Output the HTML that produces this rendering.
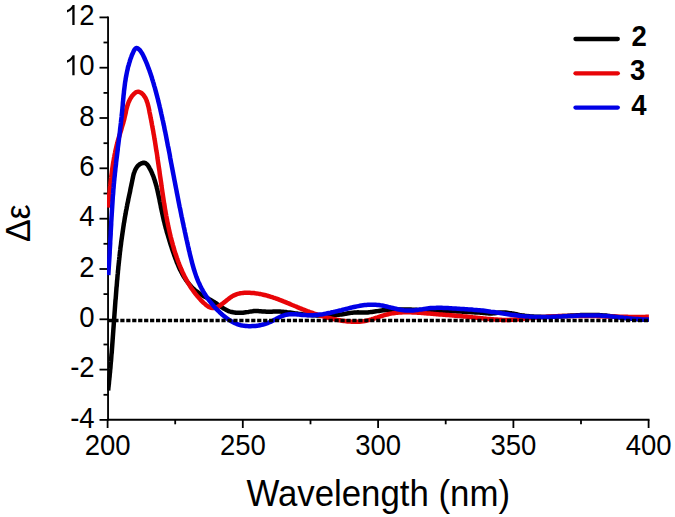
<!DOCTYPE html>
<html><head><meta charset="utf-8"><style>
html,body{margin:0;padding:0;background:#fff;}
svg{display:block;font-family:"Liberation Sans",sans-serif;}
</style></head><body>
<svg width="675" height="517" viewBox="0 0 675 517">
<rect width="675" height="517" fill="#fff"/>
<line x1="108.05" y1="16.5" x2="108.05" y2="420.6" stroke="#000" stroke-width="1.85"/>
<line x1="107.1" y1="419.7" x2="649.5" y2="419.7" stroke="#000" stroke-width="1.85"/>
<line x1="99.5" y1="419.9" x2="108.05" y2="419.9" stroke="#000" stroke-width="1.8"/>
<line x1="103.5" y1="394.8" x2="108.05" y2="394.8" stroke="#000" stroke-width="1.8"/>
<line x1="99.5" y1="369.6" x2="108.05" y2="369.6" stroke="#000" stroke-width="1.8"/>
<line x1="103.5" y1="344.5" x2="108.05" y2="344.5" stroke="#000" stroke-width="1.8"/>
<line x1="99.5" y1="319.3" x2="108.05" y2="319.3" stroke="#000" stroke-width="1.8"/>
<line x1="103.5" y1="294.1" x2="108.05" y2="294.1" stroke="#000" stroke-width="1.8"/>
<line x1="99.5" y1="269.0" x2="108.05" y2="269.0" stroke="#000" stroke-width="1.8"/>
<line x1="103.5" y1="243.8" x2="108.05" y2="243.8" stroke="#000" stroke-width="1.8"/>
<line x1="99.5" y1="218.7" x2="108.05" y2="218.7" stroke="#000" stroke-width="1.8"/>
<line x1="103.5" y1="193.5" x2="108.05" y2="193.5" stroke="#000" stroke-width="1.8"/>
<line x1="99.5" y1="168.3" x2="108.05" y2="168.3" stroke="#000" stroke-width="1.8"/>
<line x1="103.5" y1="143.2" x2="108.05" y2="143.2" stroke="#000" stroke-width="1.8"/>
<line x1="99.5" y1="118.0" x2="108.05" y2="118.0" stroke="#000" stroke-width="1.8"/>
<line x1="103.5" y1="92.9" x2="108.05" y2="92.9" stroke="#000" stroke-width="1.8"/>
<line x1="99.5" y1="67.7" x2="108.05" y2="67.7" stroke="#000" stroke-width="1.8"/>
<line x1="103.5" y1="42.5" x2="108.05" y2="42.5" stroke="#000" stroke-width="1.8"/>
<line x1="99.5" y1="17.4" x2="108.05" y2="17.4" stroke="#000" stroke-width="1.8"/>
<line x1="107.6" y1="419.7" x2="107.6" y2="428.0" stroke="#000" stroke-width="1.8"/>
<line x1="175.2" y1="419.7" x2="175.2" y2="424.3" stroke="#000" stroke-width="1.8"/>
<line x1="242.8" y1="419.7" x2="242.8" y2="428.0" stroke="#000" stroke-width="1.8"/>
<line x1="310.5" y1="419.7" x2="310.5" y2="424.3" stroke="#000" stroke-width="1.8"/>
<line x1="378.1" y1="419.7" x2="378.1" y2="428.0" stroke="#000" stroke-width="1.8"/>
<line x1="445.7" y1="419.7" x2="445.7" y2="424.3" stroke="#000" stroke-width="1.8"/>
<line x1="513.4" y1="419.7" x2="513.4" y2="428.0" stroke="#000" stroke-width="1.8"/>
<line x1="581.0" y1="419.7" x2="581.0" y2="424.3" stroke="#000" stroke-width="1.8"/>
<line x1="648.6" y1="419.7" x2="648.6" y2="428.0" stroke="#000" stroke-width="1.8"/>
<defs><clipPath id="pc"><rect x="107.1" y="0" width="560" height="517"/></clipPath></defs>
<g clip-path="url(#pc)">
<path d="M108.1,390.5 L108.3,389.1 L108.4,387.7 L108.6,386.3 L108.7,385.0 L108.9,383.6 L109.0,382.2 L109.1,380.8 L109.3,379.4 L109.4,378.0 L109.6,376.6 L109.7,375.2 L109.8,373.8 L110.0,372.4 L110.1,371.0 L110.2,369.6 L110.4,368.2 L110.5,366.8 L110.6,365.4 L110.7,364.0 L110.8,362.6 L111.0,361.2 L111.1,359.8 L111.2,358.5 L111.3,357.1 L111.4,355.7 L111.5,354.3 L111.7,352.9 L111.8,351.5 L111.9,350.1 L112.0,348.7 L112.1,347.3 L112.2,345.9 L112.3,344.5 L112.4,343.1 L112.5,341.8 L112.6,340.4 L112.7,339.0 L112.8,337.6 L112.9,336.2 L113.0,334.8 L113.1,333.4 L113.2,332.0 L113.3,330.6 L113.4,329.2 L113.5,327.8 L113.6,326.5 L113.7,325.1 L113.8,323.7 L113.9,322.3 L114.0,320.9 L114.1,319.5 L114.2,318.1 L114.3,316.7 L114.4,315.3 L114.5,313.9 L114.6,312.5 L114.7,311.1 L114.8,309.8 L114.9,308.4 L115.0,307.0 L115.1,305.6 L115.2,304.2 L115.3,302.8 L115.4,301.4 L115.5,300.0 L115.7,298.6 L115.8,297.2 L115.9,295.8 L116.0,294.4 L116.1,293.0 L116.2,291.6 L116.3,290.3 L116.4,288.9 L116.5,287.5 L116.7,286.1 L116.8,284.7 L116.9,283.3 L117.0,281.9 L117.1,280.5 L117.3,279.1 L117.4,277.7 L117.5,276.3 L117.6,274.9 L117.8,273.5 L117.9,272.1 L118.0,270.7 L118.2,269.3 L118.3,267.9 L118.4,266.5 L118.6,265.1 L118.7,263.7 L118.9,262.3 L119.0,260.9 L119.2,259.5 L119.3,258.1 L119.5,256.7 L119.6,255.3 L119.8,253.9 L119.9,252.5 L120.1,251.1 L120.3,249.7 L120.4,248.3 L120.6,246.9 L120.8,245.5 L121.0,244.2 L121.1,242.8 L121.3,241.4 L121.5,240.0 L121.7,238.6 L121.9,237.2 L122.1,235.8 L122.3,234.4 L122.5,233.0 L122.7,231.7 L122.9,230.3 L123.1,228.9 L123.3,227.5 L123.5,226.1 L123.7,224.8 L123.9,223.4 L124.2,222.0 L124.4,220.6 L124.6,219.3 L124.8,217.9 L125.1,216.5 L125.3,215.2 L125.6,213.8 L125.8,212.5 L126.0,211.1 L126.3,209.7 L126.6,208.4 L126.8,207.0 L127.1,205.7 L127.3,204.4 L127.6,203.0 L127.9,201.7 L128.2,200.3 L128.4,199.0 L128.7,197.6 L129.0,196.3 L129.3,194.9 L129.6,193.6 L129.9,192.2 L130.2,190.8 L130.4,189.4 L130.7,188.0 L131.0,186.6 L131.3,185.2 L131.6,183.8 L131.9,182.4 L132.2,180.9 L132.5,179.4 L132.8,178.0 L133.1,176.5 L133.4,175.1 L133.8,173.6 L134.3,172.3 L134.8,170.9 L135.4,169.6 L136.0,168.4 L136.8,167.2 L137.6,166.2 L138.6,165.2 L139.7,164.3 L140.9,163.6 L142.1,163.1 L143.3,162.8 L144.5,162.8 L145.5,163.2 L146.4,163.8 L147.3,164.7 L148.1,165.7 L148.8,166.8 L149.5,168.1 L150.2,169.3 L150.8,170.6 L151.4,171.8 L152.0,173.1 L152.5,174.4 L153.1,175.7 L153.6,177.0 L154.0,178.4 L154.5,179.7 L154.9,181.0 L155.3,182.4 L155.7,183.7 L156.1,185.1 L156.5,186.4 L156.8,187.8 L157.2,189.2 L157.5,190.6 L157.8,191.9 L158.1,193.3 L158.4,194.7 L158.7,196.1 L159.0,197.5 L159.3,198.8 L159.6,200.2 L159.8,201.6 L160.1,203.0 L160.4,204.4 L160.7,205.8 L160.9,207.2 L161.2,208.5 L161.5,209.9 L161.8,211.3 L162.1,212.6 L162.4,214.0 L162.7,215.4 L163.0,216.7 L163.3,218.1 L163.6,219.4 L163.9,220.8 L164.3,222.1 L164.6,223.5 L164.9,224.8 L165.3,226.1 L165.6,227.5 L166.0,228.8 L166.4,230.1 L166.7,231.5 L167.1,232.8 L167.5,234.1 L167.9,235.5 L168.3,236.8 L168.7,238.1 L169.1,239.5 L169.5,240.8 L169.9,242.1 L170.3,243.5 L170.7,244.8 L171.2,246.1 L171.6,247.5 L172.0,248.8 L172.5,250.1 L172.9,251.5 L173.4,252.8 L173.9,254.2 L174.3,255.5 L174.8,256.8 L175.3,258.2 L175.8,259.5 L176.3,260.8 L176.8,262.2 L177.4,263.5 L177.9,264.8 L178.5,266.1 L179.0,267.4 L179.6,268.7 L180.2,269.9 L180.9,271.2 L181.5,272.4 L182.2,273.7 L182.8,274.9 L183.5,276.1 L184.2,277.3 L185.0,278.4 L185.7,279.6 L186.5,280.7 L187.3,281.8 L188.2,282.9 L189.0,284.0 L189.9,285.0 L190.8,286.0 L191.7,287.0 L192.7,288.0 L193.7,289.0 L194.7,289.9 L195.8,290.8 L196.9,291.6 L198.0,292.4 L199.1,293.2 L200.3,294.0 L201.5,294.8 L202.7,295.5 L203.9,296.2 L205.2,296.9 L206.4,297.6 L207.7,298.3 L208.9,299.0 L210.2,299.7 L211.4,300.4 L212.7,301.2 L213.9,301.9 L215.1,302.7 L216.3,303.4 L217.4,304.2 L218.6,305.1 L219.7,305.9 L220.9,306.7 L222.0,307.4 L223.2,308.2 L224.4,308.9 L225.6,309.6 L226.8,310.2 L228.0,310.8 L229.3,311.3 L230.6,311.7 L231.9,312.0 L233.2,312.3 L234.6,312.5 L236.0,312.7 L237.4,312.8 L238.8,312.8 L240.2,312.8 L241.6,312.8 L243.0,312.7 L244.4,312.5 L245.8,312.3 L247.1,312.1 L248.5,311.9 L249.9,311.6 L251.2,311.4 L252.6,311.3 L254.0,311.1 L255.3,311.1 L256.7,311.1 L258.1,311.1 L259.5,311.2 L260.8,311.3 L262.2,311.4 L263.6,311.5 L265.0,311.6 L266.4,311.7 L267.7,311.8 L269.1,311.8 L270.5,311.7 L271.9,311.7 L273.3,311.6 L274.7,311.6 L276.1,311.5 L277.5,311.6 L278.8,311.6 L280.2,311.6 L281.6,311.7 L283.0,311.8 L284.4,312.0 L285.8,312.1 L287.2,312.3 L288.6,312.4 L290.0,312.6 L291.3,312.8 L292.7,313.0 L294.1,313.2 L295.5,313.4 L296.9,313.6 L298.3,313.8 L299.7,313.9 L301.1,314.1 L302.5,314.3 L303.9,314.4 L305.3,314.6 L306.7,314.7 L308.1,314.9 L309.5,315.0 L310.8,315.1 L312.2,315.2 L313.6,315.2 L315.0,315.3 L316.4,315.4 L317.8,315.4 L319.2,315.5 L320.6,315.5 L322.0,315.5 L323.4,315.5 L324.8,315.5 L326.2,315.5 L327.6,315.4 L329.0,315.4 L330.4,315.3 L331.8,315.2 L333.1,315.2 L334.5,315.1 L335.9,314.9 L337.3,314.8 L338.7,314.7 L340.1,314.5 L341.4,314.4 L342.8,314.2 L344.2,314.0 L345.6,313.8 L346.9,313.5 L348.3,313.3 L349.7,313.1 L351.0,312.9 L352.4,312.7 L353.8,312.6 L355.2,312.4 L356.6,312.4 L357.9,312.3 L359.3,312.4 L360.7,312.4 L362.1,312.5 L363.6,312.5 L365.0,312.5 L366.3,312.4 L367.7,312.4 L369.1,312.2 L370.5,312.1 L371.9,311.9 L373.3,311.7 L374.7,311.5 L376.1,311.3 L377.4,311.1 L378.8,310.9 L380.2,310.7 L381.6,310.5 L383.0,310.3 L384.4,310.2 L385.8,310.1 L387.2,309.9 L388.5,309.8 L389.9,309.8 L391.3,309.7 L392.7,309.6 L394.1,309.6 L395.5,309.5 L396.9,309.5 L398.3,309.5 L399.7,309.5 L401.1,309.5 L402.5,309.5 L403.9,309.5 L405.3,309.5 L406.7,309.5 L408.1,309.6 L409.5,309.6 L410.9,309.6 L412.3,309.7 L413.7,309.7 L415.1,309.8 L416.5,309.8 L417.9,309.9 L419.3,309.9 L420.7,310.0 L422.1,310.0 L423.5,310.1 L424.9,310.1 L426.3,310.2 L427.7,310.2 L429.1,310.3 L430.5,310.3 L431.9,310.4 L433.3,310.4 L434.7,310.5 L436.1,310.5 L437.5,310.6 L438.9,310.7 L440.3,310.7 L441.7,310.8 L443.1,310.8 L444.5,310.9 L445.8,310.9 L447.2,311.0 L448.6,311.0 L450.0,311.1 L451.4,311.2 L452.8,311.2 L454.2,311.3 L455.6,311.3 L457.0,311.4 L458.4,311.5 L459.8,311.5 L461.2,311.6 L462.6,311.7 L464.0,311.7 L465.4,311.8 L466.8,311.9 L468.2,312.0 L469.6,312.0 L471.0,312.1 L472.4,312.2 L473.8,312.3 L475.1,312.4 L476.5,312.5 L477.9,312.6 L479.3,312.6 L480.7,312.7 L482.1,312.8 L483.5,312.9 L484.9,313.0 L486.3,313.2 L487.7,313.3 L489.1,313.4 L490.5,313.4 L491.9,313.4 L493.2,313.3 L494.6,313.2 L496.0,313.0 L497.4,312.7 L498.8,312.6 L500.1,312.4 L501.5,312.4 L502.9,312.4 L504.2,312.4 L505.6,312.5 L507.0,312.7 L508.4,312.9 L509.7,313.1 L511.1,313.3 L512.5,313.6 L513.9,313.8 L515.2,314.1 L516.6,314.3 L518.0,314.6 L519.4,314.9 L520.7,315.1 L522.1,315.4 L523.5,315.6 L524.9,315.8 L526.3,315.9 L527.6,316.1 L529.0,316.2 L530.4,316.4 L531.8,316.5 L533.2,316.6 L534.6,316.7 L536.0,316.7 L537.4,316.8 L538.8,316.8 L540.2,316.8 L541.6,316.9 L543.0,316.9 L544.4,316.9 L545.8,316.9 L547.2,316.8 L548.6,316.8 L550.0,316.8 L551.4,316.7 L552.8,316.7 L554.2,316.6 L555.6,316.5 L557.0,316.5 L558.4,316.4 L559.8,316.3 L561.2,316.2 L562.6,316.1 L564.0,316.1 L565.4,316.0 L566.8,315.9 L568.2,315.8 L569.6,315.7 L571.0,315.6 L572.4,315.5 L573.8,315.5 L575.2,315.4 L576.6,315.3 L578.0,315.2 L579.4,315.2 L580.8,315.1 L582.2,315.1 L583.6,315.0 L585.0,315.0 L586.4,314.9 L587.8,314.9 L589.2,314.9 L590.6,314.9 L592.0,314.9 L593.4,314.9 L594.8,314.9 L596.2,315.0 L597.6,315.0 L598.9,315.1 L600.3,315.2 L601.7,315.3 L603.1,315.4 L604.5,315.5 L605.9,315.6 L607.3,315.8 L608.6,315.9 L610.0,316.1 L611.4,316.2 L612.8,316.4 L614.2,316.6 L615.5,316.8 L616.9,316.9 L618.3,317.1 L619.7,317.3 L621.1,317.5 L622.4,317.7 L623.8,317.8 L625.2,318.0 L626.6,318.2 L628.0,318.3 L629.4,318.5 L630.7,318.6 L632.1,318.8 L633.5,318.9 L634.9,319.0 L636.3,319.1 L637.7,319.2 L639.1,319.3 L640.5,319.4 L641.9,319.4 L643.3,319.4 L644.7,319.5 L646.1,319.4 L647.5,319.4 L648.9,319.4" fill="none" stroke="#000" stroke-width="4.5" stroke-linejoin="round" stroke-linecap="butt"/>
<path d="M108.0,207.5 L108.1,206.2 L108.2,204.8 L108.4,203.5 L108.5,202.1 L108.7,200.8 L108.8,199.5 L108.9,198.1 L109.1,196.8 L109.2,195.4 L109.3,194.1 L109.5,192.8 L109.6,191.4 L109.8,190.1 L109.9,188.7 L110.0,187.4 L110.2,186.0 L110.3,184.7 L110.5,183.4 L110.6,182.0 L110.8,180.7 L110.9,179.3 L111.1,178.0 L111.2,176.7 L111.4,175.3 L111.6,174.0 L111.8,172.6 L111.9,171.3 L112.1,170.0 L112.3,168.6 L112.5,167.3 L112.7,166.0 L112.9,164.6 L113.1,163.3 L113.3,162.0 L113.6,160.7 L113.8,159.3 L114.0,158.0 L114.3,156.7 L114.5,155.4 L114.8,154.0 L115.1,152.7 L115.3,151.4 L115.6,150.1 L115.9,148.8 L116.2,147.5 L116.5,146.1 L116.8,144.8 L117.2,143.5 L117.5,142.2 L117.9,140.9 L118.2,139.6 L118.6,138.3 L119.0,137.0 L119.4,135.7 L119.8,134.5 L120.2,133.2 L120.6,131.9 L121.0,130.6 L121.4,129.3 L121.7,128.0 L122.1,126.7 L122.5,125.4 L122.9,124.1 L123.3,122.8 L123.6,121.5 L124.0,120.2 L124.3,118.9 L124.6,117.6 L124.9,116.3 L125.2,115.0 L125.5,113.7 L125.8,112.4 L126.0,111.1 L126.3,109.8 L126.6,108.5 L127.0,107.2 L127.3,105.9 L127.8,104.6 L128.2,103.3 L128.7,102.0 L129.3,100.7 L129.9,99.5 L130.6,98.2 L131.4,97.0 L132.2,95.8 L133.2,94.7 L134.1,93.7 L135.1,92.9 L136.2,92.2 L137.2,91.9 L138.3,91.7 L139.4,91.9 L140.4,92.4 L141.4,93.0 L142.3,93.8 L143.2,94.7 L143.9,95.6 L144.6,96.6 L145.3,97.7 L145.9,98.8 L146.4,100.0 L146.8,101.3 L147.3,102.5 L147.7,103.8 L148.0,105.2 L148.4,106.5 L148.7,107.9 L149.0,109.3 L149.3,110.7 L149.5,112.1 L149.8,113.5 L150.1,114.8 L150.4,116.2 L150.6,117.6 L150.9,118.9 L151.2,120.3 L151.4,121.7 L151.7,123.0 L151.9,124.4 L152.2,125.7 L152.4,127.1 L152.7,128.4 L152.9,129.8 L153.2,131.1 L153.4,132.4 L153.6,133.8 L153.9,135.1 L154.1,136.4 L154.3,137.8 L154.5,139.1 L154.8,140.4 L155.0,141.8 L155.2,143.1 L155.4,144.4 L155.6,145.7 L155.8,147.0 L156.0,148.4 L156.2,149.7 L156.4,151.0 L156.7,152.3 L156.9,153.6 L157.1,155.0 L157.3,156.3 L157.4,157.6 L157.6,158.9 L157.8,160.2 L158.0,161.5 L158.2,162.9 L158.4,164.2 L158.6,165.5 L158.8,166.8 L159.0,168.1 L159.2,169.4 L159.4,170.8 L159.6,172.1 L159.7,173.4 L159.9,174.7 L160.1,176.1 L160.3,177.4 L160.5,178.7 L160.7,180.0 L160.9,181.4 L161.1,182.7 L161.3,184.0 L161.4,185.4 L161.6,186.7 L161.8,188.0 L162.0,189.4 L162.2,190.7 L162.4,192.0 L162.6,193.4 L162.8,194.7 L163.0,196.1 L163.2,197.4 L163.4,198.7 L163.6,200.1 L163.8,201.4 L164.0,202.8 L164.3,204.1 L164.5,205.4 L164.7,206.8 L164.9,208.1 L165.1,209.5 L165.4,210.8 L165.6,212.1 L165.8,213.5 L166.1,214.8 L166.3,216.1 L166.6,217.5 L166.8,218.8 L167.1,220.1 L167.3,221.5 L167.6,222.8 L167.9,224.1 L168.1,225.5 L168.4,226.8 L168.7,228.1 L169.0,229.4 L169.3,230.7 L169.6,232.1 L169.9,233.4 L170.2,234.7 L170.5,236.0 L170.8,237.3 L171.2,238.6 L171.5,239.9 L171.8,241.2 L172.2,242.5 L172.6,243.8 L172.9,245.1 L173.3,246.4 L173.7,247.7 L174.0,249.0 L174.4,250.3 L174.8,251.6 L175.2,252.9 L175.6,254.2 L176.1,255.4 L176.5,256.7 L176.9,258.0 L177.4,259.2 L177.8,260.5 L178.3,261.8 L178.8,263.0 L179.2,264.3 L179.7,265.5 L180.2,266.7 L180.7,268.0 L181.3,269.2 L181.8,270.4 L182.3,271.7 L182.9,272.9 L183.5,274.1 L184.0,275.3 L184.6,276.5 L185.2,277.7 L185.9,278.9 L186.5,280.1 L187.1,281.2 L187.8,282.4 L188.5,283.5 L189.2,284.7 L189.9,285.8 L190.6,287.0 L191.3,288.1 L192.1,289.2 L192.9,290.3 L193.6,291.4 L194.5,292.5 L195.3,293.6 L196.1,294.6 L197.0,295.7 L197.9,296.7 L198.8,297.8 L199.7,298.8 L200.6,299.8 L201.6,300.8 L202.6,301.8 L203.6,302.8 L204.6,303.7 L205.7,304.7 L206.7,305.5 L207.8,306.3 L209.0,307.0 L210.1,307.5 L211.2,307.9 L212.4,308.1 L213.6,308.1 L214.8,307.9 L216.0,307.6 L217.2,307.1 L218.4,306.4 L219.6,305.7 L220.8,305.0 L221.9,304.1 L223.0,303.3 L224.1,302.4 L225.2,301.6 L226.3,300.7 L227.4,299.8 L228.5,299.0 L229.5,298.1 L230.6,297.4 L231.7,296.6 L232.9,295.9 L234.0,295.3 L235.2,294.8 L236.4,294.3 L237.7,293.9 L239.0,293.6 L240.3,293.3 L241.6,293.1 L243.0,292.9 L244.4,292.8 L245.7,292.7 L247.1,292.7 L248.5,292.7 L249.8,292.8 L251.2,292.9 L252.6,293.0 L253.9,293.1 L255.3,293.3 L256.6,293.4 L257.9,293.6 L259.2,293.9 L260.6,294.1 L261.9,294.4 L263.2,294.7 L264.5,295.0 L265.8,295.3 L267.1,295.6 L268.3,296.0 L269.6,296.4 L270.9,296.8 L272.2,297.2 L273.4,297.6 L274.7,298.0 L276.0,298.5 L277.2,298.9 L278.5,299.4 L279.7,299.9 L281.0,300.4 L282.3,300.9 L283.5,301.4 L284.8,301.9 L286.0,302.4 L287.2,302.9 L288.5,303.4 L289.7,303.9 L291.0,304.5 L292.2,305.0 L293.5,305.5 L294.7,306.0 L296.0,306.5 L297.2,307.1 L298.5,307.6 L299.7,308.1 L301.0,308.6 L302.2,309.1 L303.5,309.6 L304.8,310.1 L306.0,310.6 L307.3,311.1 L308.6,311.5 L309.8,312.0 L311.1,312.5 L312.4,312.9 L313.6,313.4 L314.9,313.8 L316.2,314.2 L317.5,314.7 L318.8,315.1 L320.1,315.5 L321.3,315.9 L322.6,316.2 L323.9,316.6 L325.2,317.0 L326.5,317.3 L327.8,317.7 L329.1,318.0 L330.4,318.3 L331.7,318.6 L333.0,318.9 L334.3,319.2 L335.7,319.5 L337.0,319.8 L338.3,320.0 L339.6,320.2 L340.9,320.5 L342.2,320.7 L343.6,320.9 L344.9,321.0 L346.2,321.2 L347.6,321.4 L348.9,321.5 L350.2,321.6 L351.6,321.7 L352.9,321.7 L354.2,321.8 L355.6,321.8 L356.9,321.8 L358.2,321.7 L359.6,321.7 L360.9,321.5 L362.2,321.4 L363.5,321.2 L364.8,321.0 L366.1,320.7 L367.4,320.4 L368.8,320.1 L370.1,319.8 L371.4,319.4 L372.6,319.0 L373.9,318.6 L375.2,318.1 L376.5,317.7 L377.8,317.3 L379.1,316.8 L380.4,316.4 L381.7,316.0 L383.0,315.6 L384.3,315.2 L385.6,314.8 L386.9,314.5 L388.2,314.2 L389.5,313.9 L390.9,313.6 L392.2,313.4 L393.5,313.2 L394.8,313.0 L396.2,312.8 L397.5,312.7 L398.8,312.6 L400.2,312.5 L401.5,312.4 L402.9,312.3 L404.2,312.3 L405.5,312.3 L406.9,312.3 L408.2,312.3 L409.6,312.3 L410.9,312.3 L412.3,312.4 L413.6,312.4 L415.0,312.5 L416.3,312.6 L417.7,312.7 L419.1,312.7 L420.4,312.8 L421.8,312.9 L423.1,313.1 L424.5,313.2 L425.8,313.3 L427.2,313.4 L428.5,313.5 L429.9,313.6 L431.2,313.7 L432.5,313.8 L433.9,313.9 L435.2,314.1 L436.6,314.2 L437.9,314.3 L439.3,314.4 L440.6,314.5 L441.9,314.6 L443.3,314.7 L444.6,314.8 L445.9,314.9 L447.3,315.0 L448.6,315.1 L449.9,315.2 L451.3,315.3 L452.6,315.4 L453.9,315.5 L455.3,315.7 L456.6,315.8 L457.9,315.9 L459.3,316.0 L460.6,316.1 L462.0,316.2 L463.3,316.4 L464.6,316.5 L466.0,316.6 L467.3,316.7 L468.6,316.9 L470.0,317.0 L471.3,317.1 L472.7,317.3 L474.0,317.4 L475.4,317.6 L476.7,317.7 L478.1,317.9 L479.4,318.0 L480.8,318.2 L482.1,318.3 L483.5,318.4 L484.8,318.6 L486.2,318.7 L487.5,318.9 L488.9,319.0 L490.2,319.1 L491.6,319.2 L492.9,319.3 L494.3,319.4 L495.6,319.5 L497.0,319.6 L498.3,319.7 L499.6,319.8 L501.0,319.8 L502.3,319.9 L503.7,319.9 L505.0,319.9 L506.4,319.9 L507.7,319.9 L509.0,319.9 L510.4,319.8 L511.7,319.8 L513.0,319.7 L514.4,319.6 L515.7,319.5 L517.0,319.4 L518.4,319.3 L519.7,319.1 L521.0,319.0 L522.3,318.9 L523.7,318.7 L525.0,318.6 L526.3,318.5 L527.7,318.3 L529.0,318.2 L530.3,318.1 L531.7,317.9 L533.0,317.8 L534.3,317.7 L535.7,317.6 L537.0,317.5 L538.4,317.4 L539.7,317.2 L541.0,317.1 L542.4,317.0 L543.7,316.9 L545.1,316.9 L546.4,316.8 L547.8,316.7 L549.1,316.6 L550.5,316.5 L551.8,316.4 L553.2,316.4 L554.5,316.3 L555.9,316.3 L557.2,316.2 L558.6,316.1 L559.9,316.1 L561.3,316.1 L562.6,316.0 L563.9,316.0 L565.3,316.0 L566.6,315.9 L568.0,315.9 L569.3,315.9 L570.7,315.9 L572.0,315.9 L573.4,315.9 L574.7,315.9 L576.1,315.9 L577.4,315.9 L578.8,315.9 L580.1,315.9 L581.5,315.9 L582.8,315.9 L584.2,315.9 L585.5,315.9 L586.9,315.9 L588.2,316.0 L589.6,316.0 L590.9,316.0 L592.3,316.0 L593.6,316.1 L595.0,316.1 L596.3,316.1 L597.7,316.2 L599.0,316.2 L600.4,316.2 L601.7,316.3 L603.1,316.3 L604.4,316.3 L605.8,316.4 L607.1,316.4 L608.4,316.4 L609.8,316.5 L611.1,316.5 L612.5,316.5 L613.8,316.6 L615.2,316.6 L616.5,316.6 L617.9,316.7 L619.2,316.7 L620.6,316.7 L621.9,316.8 L623.3,316.8 L624.6,316.8 L626.0,316.8 L627.3,316.8 L628.7,316.9 L630.0,316.9 L631.4,316.9 L632.7,316.9 L634.1,316.9 L635.4,316.9 L636.8,316.9 L638.1,316.9 L639.5,316.9 L640.8,316.9 L642.2,316.9 L643.5,316.9 L644.9,316.9 L646.2,316.8 L647.5,316.8 L648.9,316.8" fill="none" stroke="#e80508" stroke-width="4.5" stroke-linejoin="round" stroke-linecap="butt"/>
<path d="M108.3,275.0 L108.4,273.4 L108.5,271.8 L108.6,270.2 L108.7,268.7 L108.8,267.1 L108.9,265.5 L109.0,263.9 L109.1,262.3 L109.2,260.8 L109.3,259.2 L109.4,257.6 L109.5,256.0 L109.6,254.4 L109.7,252.8 L109.7,251.3 L109.8,249.7 L109.9,248.1 L110.0,246.5 L110.1,244.9 L110.2,243.3 L110.2,241.7 L110.3,240.1 L110.4,238.5 L110.5,237.0 L110.6,235.4 L110.7,233.8 L110.7,232.2 L110.8,230.6 L110.9,229.0 L111.0,227.4 L111.1,225.8 L111.2,224.2 L111.2,222.6 L111.3,221.1 L111.4,219.5 L111.5,217.9 L111.6,216.3 L111.7,214.7 L111.8,213.1 L111.9,211.5 L112.0,209.9 L112.1,208.3 L112.2,206.7 L112.3,205.2 L112.4,203.6 L112.5,202.0 L112.6,200.4 L112.7,198.8 L112.8,197.2 L112.9,195.6 L113.1,194.0 L113.2,192.5 L113.3,190.9 L113.4,189.3 L113.6,187.7 L113.7,186.1 L113.8,184.5 L114.0,183.0 L114.1,181.4 L114.3,179.8 L114.4,178.2 L114.6,176.6 L114.8,175.1 L114.9,173.5 L115.1,171.9 L115.3,170.3 L115.4,168.7 L115.6,167.2 L115.8,165.6 L116.0,164.0 L116.1,162.4 L116.3,160.9 L116.5,159.3 L116.7,157.7 L116.9,156.1 L117.1,154.6 L117.3,153.0 L117.5,151.4 L117.7,149.9 L117.8,148.3 L118.0,146.7 L118.2,145.1 L118.4,143.6 L118.6,142.0 L118.8,140.4 L119.0,138.8 L119.2,137.3 L119.4,135.7 L119.6,134.1 L119.8,132.5 L120.0,130.9 L120.1,129.4 L120.3,127.8 L120.5,126.2 L120.7,124.6 L120.9,123.0 L121.0,121.5 L121.2,119.9 L121.4,118.3 L121.6,116.7 L121.7,115.1 L121.9,113.5 L122.1,111.9 L122.2,110.3 L122.4,108.8 L122.5,107.2 L122.7,105.6 L122.8,104.0 L122.9,102.4 L123.1,100.8 L123.2,99.2 L123.4,97.6 L123.5,96.0 L123.7,94.4 L123.9,92.8 L124.0,91.2 L124.2,89.6 L124.4,88.1 L124.6,86.5 L124.8,84.9 L125.0,83.3 L125.2,81.7 L125.5,80.2 L125.7,78.6 L126.0,77.0 L126.3,75.5 L126.6,73.9 L126.9,72.4 L127.2,70.8 L127.6,69.3 L127.9,67.7 L128.3,66.2 L128.8,64.7 L129.2,63.2 L129.7,61.6 L130.1,60.1 L130.6,58.6 L131.2,57.1 L131.7,55.7 L132.3,54.2 L133.0,52.7 L133.6,51.3 L134.3,49.9 L135.1,48.9 L135.9,48.2 L136.8,48.0 L137.7,48.4 L138.7,49.1 L139.7,50.0 L140.6,51.1 L141.4,52.4 L142.3,53.8 L143.1,55.3 L143.9,56.9 L144.6,58.5 L145.3,60.1 L146.0,61.7 L146.7,63.3 L147.3,64.9 L147.9,66.5 L148.5,68.1 L149.1,69.6 L149.6,71.1 L150.2,72.7 L150.7,74.2 L151.2,75.7 L151.7,77.2 L152.1,78.7 L152.6,80.2 L153.0,81.6 L153.5,83.1 L153.9,84.6 L154.3,86.1 L154.8,87.6 L155.2,89.1 L155.6,90.6 L156.0,92.1 L156.4,93.6 L156.8,95.1 L157.2,96.6 L157.6,98.2 L158.0,99.7 L158.3,101.2 L158.7,102.7 L159.1,104.3 L159.5,105.8 L159.8,107.3 L160.2,108.9 L160.5,110.4 L160.9,112.0 L161.2,113.5 L161.6,115.1 L161.9,116.6 L162.3,118.2 L162.6,119.7 L163.0,121.3 L163.3,122.8 L163.6,124.4 L164.0,125.9 L164.3,127.5 L164.6,129.1 L164.9,130.6 L165.3,132.2 L165.6,133.8 L165.9,135.3 L166.2,136.9 L166.5,138.5 L166.8,140.0 L167.1,141.6 L167.4,143.2 L167.7,144.8 L168.0,146.3 L168.4,147.9 L168.7,149.5 L169.0,151.1 L169.3,152.6 L169.6,154.2 L169.9,155.8 L170.1,157.4 L170.4,158.9 L170.7,160.5 L171.0,162.1 L171.3,163.6 L171.6,165.2 L171.9,166.8 L172.2,168.3 L172.5,169.9 L172.8,171.5 L173.1,173.0 L173.4,174.6 L173.7,176.2 L174.0,177.7 L174.3,179.3 L174.6,180.9 L174.9,182.4 L175.2,184.0 L175.5,185.5 L175.8,187.1 L176.1,188.6 L176.4,190.2 L176.7,191.7 L177.0,193.3 L177.3,194.8 L177.6,196.4 L177.9,197.9 L178.2,199.5 L178.5,201.0 L178.8,202.6 L179.1,204.1 L179.4,205.7 L179.7,207.2 L180.1,208.8 L180.4,210.3 L180.7,211.9 L181.0,213.4 L181.3,214.9 L181.6,216.5 L182.0,218.0 L182.3,219.6 L182.6,221.1 L182.9,222.7 L183.3,224.2 L183.6,225.8 L183.9,227.3 L184.3,228.9 L184.6,230.4 L184.9,232.0 L185.3,233.5 L185.6,235.1 L185.9,236.6 L186.3,238.2 L186.6,239.7 L187.0,241.3 L187.3,242.9 L187.7,244.4 L188.0,246.0 L188.4,247.5 L188.7,249.1 L189.1,250.7 L189.5,252.2 L189.8,253.8 L190.2,255.4 L190.6,256.9 L191.0,258.5 L191.4,260.0 L191.8,261.6 L192.2,263.2 L192.6,264.7 L193.0,266.3 L193.5,267.8 L193.9,269.3 L194.4,270.8 L194.9,272.4 L195.4,273.9 L195.9,275.4 L196.4,276.9 L197.0,278.3 L197.6,279.8 L198.2,281.3 L198.8,282.7 L199.5,284.1 L200.1,285.5 L200.8,286.9 L201.5,288.3 L202.3,289.7 L203.0,291.1 L203.8,292.4 L204.6,293.8 L205.5,295.1 L206.3,296.4 L207.2,297.7 L208.1,299.0 L209.1,300.3 L210.0,301.5 L211.0,302.8 L212.0,304.0 L213.1,305.3 L214.1,306.5 L215.2,307.7 L216.3,308.9 L217.5,310.1 L218.6,311.2 L219.8,312.3 L220.9,313.4 L222.1,314.5 L223.4,315.6 L224.6,316.6 L225.8,317.5 L227.1,318.5 L228.3,319.4 L229.6,320.2 L230.9,321.1 L232.2,321.8 L233.6,322.5 L235.0,323.2 L236.4,323.8 L237.8,324.3 L239.3,324.8 L240.9,325.2 L242.4,325.5 L244.1,325.7 L245.7,325.9 L247.3,326.1 L249.0,326.2 L250.6,326.2 L252.3,326.1 L253.9,326.1 L255.5,325.9 L257.1,325.7 L258.6,325.5 L260.1,325.2 L261.6,324.9 L263.1,324.5 L264.6,324.1 L266.1,323.6 L267.5,323.1 L268.9,322.5 L270.4,321.9 L271.8,321.2 L273.2,320.5 L274.6,319.7 L276.1,319.0 L277.5,318.2 L278.9,317.5 L280.4,316.8 L281.8,316.1 L283.3,315.6 L284.8,315.1 L286.3,314.7 L287.9,314.5 L289.4,314.3 L291.0,314.2 L292.6,314.2 L294.2,314.2 L295.8,314.3 L297.4,314.4 L299.0,314.5 L300.6,314.7 L302.2,314.9 L303.9,315.0 L305.5,315.1 L307.1,315.2 L308.7,315.3 L310.3,315.3 L311.9,315.3 L313.4,315.2 L315.0,315.1 L316.6,315.0 L318.1,314.8 L319.7,314.6 L321.2,314.4 L322.8,314.2 L324.3,313.9 L325.9,313.6 L327.4,313.3 L329.0,313.0 L330.5,312.7 L332.1,312.3 L333.6,312.0 L335.1,311.6 L336.7,311.3 L338.2,310.9 L339.8,310.5 L341.3,310.2 L342.9,309.8 L344.4,309.4 L346.0,309.0 L347.6,308.6 L349.1,308.2 L350.7,307.8 L352.2,307.4 L353.8,307.0 L355.4,306.7 L356.9,306.4 L358.5,306.1 L360.0,305.8 L361.6,305.5 L363.2,305.3 L364.7,305.1 L366.3,304.9 L367.8,304.8 L369.4,304.7 L371.0,304.7 L372.5,304.7 L374.1,304.7 L375.6,304.8 L377.2,304.9 L378.7,305.0 L380.3,305.3 L381.9,305.5 L383.4,305.8 L385.0,306.1 L386.5,306.5 L388.1,306.9 L389.6,307.3 L391.2,307.6 L392.8,308.0 L394.3,308.4 L395.9,308.8 L397.5,309.2 L399.0,309.5 L400.6,309.8 L402.1,310.1 L403.7,310.3 L405.3,310.4 L406.8,310.6 L408.4,310.6 L410.0,310.6 L411.6,310.5 L413.1,310.4 L414.7,310.3 L416.3,310.1 L417.9,309.9 L419.5,309.6 L421.0,309.4 L422.6,309.2 L424.2,308.9 L425.8,308.7 L427.4,308.5 L429.0,308.3 L430.5,308.1 L432.1,308.0 L433.7,307.9 L435.3,307.9 L436.9,307.8 L438.5,307.8 L440.1,307.8 L441.7,307.8 L443.2,307.9 L444.8,308.0 L446.4,308.0 L448.0,308.1 L449.6,308.2 L451.2,308.3 L452.8,308.4 L454.3,308.5 L455.9,308.6 L457.5,308.7 L459.1,308.8 L460.7,308.9 L462.3,309.0 L463.9,309.1 L465.4,309.2 L467.0,309.3 L468.6,309.4 L470.2,309.5 L471.7,309.6 L473.3,309.8 L474.9,309.9 L476.5,310.0 L478.1,310.2 L479.6,310.3 L481.2,310.5 L482.8,310.6 L484.4,310.8 L485.9,311.0 L487.5,311.2 L489.1,311.4 L490.6,311.7 L492.2,311.9 L493.8,312.1 L495.4,312.3 L496.9,312.6 L498.5,312.8 L500.1,313.0 L501.6,313.3 L503.2,313.5 L504.8,313.8 L506.4,314.0 L507.9,314.2 L509.5,314.5 L511.1,314.7 L512.6,314.9 L514.2,315.1 L515.8,315.3 L517.4,315.5 L518.9,315.7 L520.5,315.9 L522.1,316.1 L523.7,316.2 L525.3,316.4 L526.8,316.5 L528.4,316.6 L530.0,316.7 L531.6,316.8 L533.2,316.9 L534.8,316.9 L536.3,317.0 L537.9,317.0 L539.5,317.0 L541.1,317.0 L542.7,317.0 L544.3,317.0 L545.9,317.0 L547.5,317.0 L549.1,316.9 L550.7,316.9 L552.2,316.8 L553.8,316.8 L555.4,316.7 L557.0,316.6 L558.6,316.6 L560.2,316.5 L561.8,316.4 L563.4,316.3 L565.0,316.3 L566.6,316.2 L568.2,316.1 L569.8,316.0 L571.4,315.9 L573.0,315.9 L574.6,315.8 L576.1,315.7 L577.7,315.7 L579.3,315.6 L580.9,315.5 L582.5,315.5 L584.1,315.5 L585.7,315.4 L587.3,315.4 L588.9,315.4 L590.4,315.4 L592.0,315.4 L593.6,315.4 L595.2,315.4 L596.8,315.5 L598.4,315.5 L599.9,315.6 L601.5,315.7 L603.1,315.8 L604.7,315.9 L606.3,316.0 L607.8,316.1 L609.4,316.3 L611.0,316.4 L612.5,316.6 L614.1,316.7 L615.7,316.9 L617.3,317.1 L618.8,317.2 L620.4,317.4 L622.0,317.6 L623.6,317.8 L625.1,317.9 L626.7,318.1 L628.3,318.3 L629.9,318.4 L631.4,318.6 L633.0,318.7 L634.6,318.9 L636.2,319.0 L637.8,319.1 L639.3,319.2 L640.9,319.3 L642.5,319.4 L644.1,319.4 L645.7,319.5 L647.3,319.5 L648.9,319.5" fill="none" stroke="#0000e6" stroke-width="4.5" stroke-linejoin="round" stroke-linecap="butt"/>
</g>
<line x1="108" y1="320.4" x2="648.9" y2="320.4" stroke="#000" stroke-width="3.5" stroke-dasharray="4.2,1.75" stroke-dashoffset="-0.4" />
<path d="M72.3,75.30 L72.3,59.10 C71.2,60.80 69.2,62.10 67.0,62.80 L67.0,60.30 C69.6,59.30 71.6,57.30 72.6,55.20 L74.6,55.20 L74.6,75.30 Z" fill="#000"/>
<path d="M72.3,24.98 L72.3,8.78 C71.2,10.48 69.2,11.78 67.0,12.48 L67.0,9.98 C69.6,8.98 71.6,6.98 72.6,4.88 L74.6,4.88 L74.6,24.98 Z" fill="#000"/>
<line x1="575.5" y1="39.0" x2="617.8" y2="39.0" stroke="#000" stroke-width="4.3" stroke-linecap="round"/>
<line x1="575.5" y1="73.3" x2="617.8" y2="73.3" stroke="#e80508" stroke-width="4.3" stroke-linecap="round"/>
<line x1="575.5" y1="107.6" x2="617.8" y2="107.6" stroke="#0000e6" stroke-width="4.3" stroke-linecap="round"/>
<text transform="translate(94.60,427.54) scale(1,1.06)" text-anchor="end" font-size="27.5">-4</text>
<text transform="translate(94.60,377.22) scale(1,1.06)" text-anchor="end" font-size="27.5">-2</text>
<text transform="translate(94.60,326.90) scale(1,1.06)" text-anchor="end" font-size="27.5">0</text>
<text transform="translate(94.60,276.58) scale(1,1.06)" text-anchor="end" font-size="27.5">2</text>
<text transform="translate(94.60,226.26) scale(1,1.06)" text-anchor="end" font-size="27.5">4</text>
<text transform="translate(94.60,175.94) scale(1,1.06)" text-anchor="end" font-size="27.5">6</text>
<text transform="translate(94.60,125.62) scale(1,1.06)" text-anchor="end" font-size="27.5">8</text>
<text transform="translate(94.60,75.30) scale(1,1.06)" text-anchor="end" font-size="27.5">0</text>
<text transform="translate(94.60,24.98) scale(1,1.06)" text-anchor="end" font-size="27.5">2</text>
<text transform="translate(107.60,455.00) scale(1,1.06)" text-anchor="middle" font-size="27.5">200</text>
<text transform="translate(242.85,455.00) scale(1,1.06)" text-anchor="middle" font-size="27.5">250</text>
<text transform="translate(378.10,455.00) scale(1,1.06)" text-anchor="middle" font-size="27.5">300</text>
<text transform="translate(513.35,455.00) scale(1,1.06)" text-anchor="middle" font-size="27.5">350</text>
<text transform="translate(648.60,455.00) scale(1,1.06)" text-anchor="middle" font-size="27.5">400</text>
<text transform="translate(378.20,506.00) scale(1,1.04)" text-anchor="middle" font-size="34.8">Wavelength (nm)</text>
<text transform="translate(30.20,223.20) rotate(-90) scale(1,1.02)" text-anchor="middle" font-size="34">Δε</text>
<text transform="translate(631.50,45.60) scale(1,1.06)" font-weight="bold" font-size="27.5">2</text>
<text transform="translate(630.00,79.90) scale(1,1.06)" font-weight="bold" font-size="27.5">3</text>
<text transform="translate(631.30,114.80) scale(1,1.06)" font-weight="bold" font-size="27.5">4</text>
</svg>
</body></html>
